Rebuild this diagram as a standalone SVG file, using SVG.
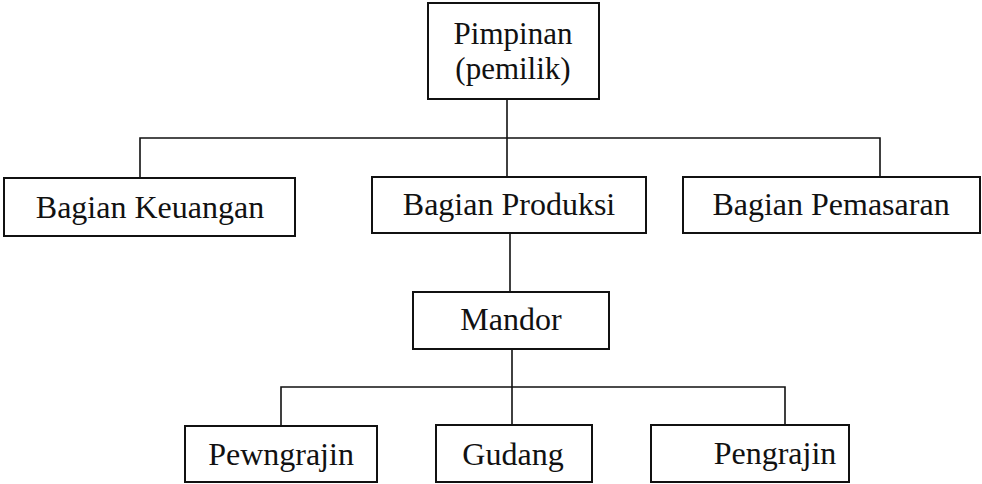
<svg xmlns="http://www.w3.org/2000/svg" width="982" height="484" viewBox="0 0 982 484">
  <style>
    .box { fill: #ffffff; stroke: #111111; stroke-width: 2; }
    .lbl { font-family: "Liberation Serif", "Times New Roman", serif; font-size: 32px; fill: #111111; text-anchor: middle; }
    .top { font-size: 31px; }
    .wire { fill: none; stroke: #111111; stroke-width: 1.6; }
  </style>
  <rect width="982" height="484" fill="#ffffff"/>

  <!-- connectors -->
  <g id="connectors">
    <path class="wire" d="M507 99 V177"/>
    <path class="wire" d="M140 178 V138 H880 V177"/>
    <path class="wire" d="M510 233 V292"/>
    <path class="wire" d="M512 349 V425"/>
    <path class="wire" d="M281 426 V387 H785 V425"/>
  </g>

  <g id="pimpinan">
    <rect class="box" x="428" y="3" width="171" height="96"/>
    <text class="lbl top" x="513" y="44">Pimpinan</text>
    <text class="lbl top" x="513" y="79">(pemilik)</text>
  </g>

  <g id="keuangan">
    <rect class="box" x="4" y="178" width="291" height="58"/>
    <text class="lbl" x="150" y="218">Bagian Keuangan</text>
  </g>

  <g id="produksi">
    <rect class="box" x="372" y="177" width="274" height="56"/>
    <text class="lbl" x="509" y="215">Bagian Produksi</text>
  </g>

  <g id="pemasaran">
    <rect class="box" x="683" y="177" width="297" height="56"/>
    <text class="lbl" x="831" y="215">Bagian Pemasaran</text>
  </g>

  <g id="mandor">
    <rect class="box" x="413" y="292" width="196" height="57"/>
    <text class="lbl" x="511" y="330">Mandor</text>
  </g>

  <g id="pewngrajin">
    <rect class="box" x="185" y="426" width="192" height="56"/>
    <text class="lbl" x="281" y="465">Pewngrajin</text>
  </g>

  <g id="gudang">
    <rect class="box" x="436" y="425" width="156" height="57"/>
    <text class="lbl" x="513" y="465">Gudang</text>
  </g>

  <g id="pengrajin">
    <rect class="box" x="651" y="425" width="198" height="57"/>
    <text class="lbl" x="775" y="464">Pengrajin</text>
  </g>
</svg>
